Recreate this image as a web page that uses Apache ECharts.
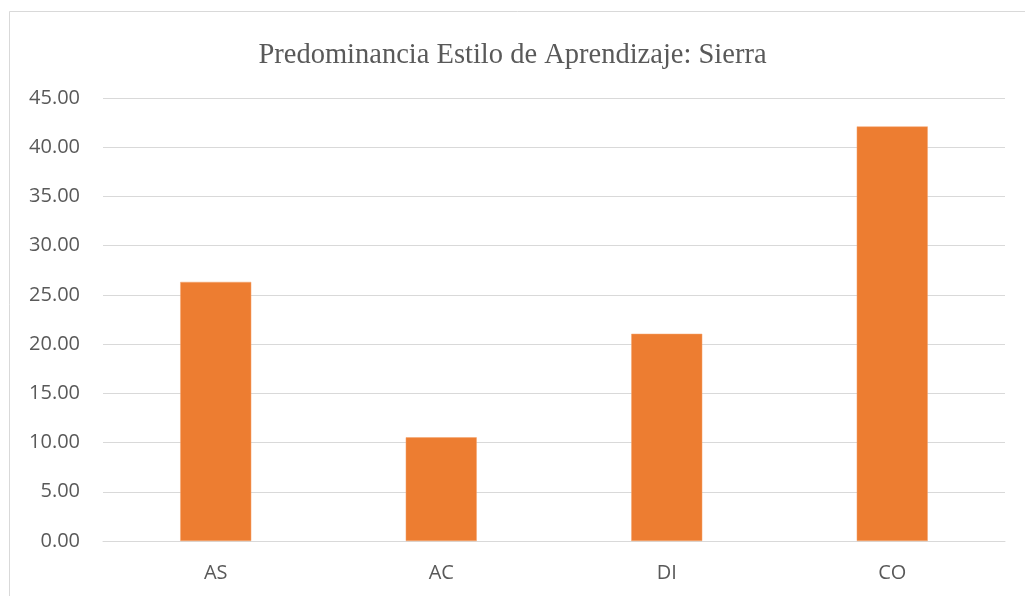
<!DOCTYPE html>
<html><head><meta charset="utf-8">
<script src="https://cdn.jsdelivr.net/npm/echarts@6/dist/echarts.min.js"></script>
<style>html,body{margin:0;padding:0;background:#fff}#c{width:1025px;height:596px}</style>
</head><body><div id="c"></div>
<script>
const categories = ['AS', 'AC', 'DI', 'CO'];
const values = [26.32, 10.53, 21.05, 42.11];
const yTicks = [0, 5, 10, 15, 20, 25, 30, 35, 40, 45];
const titleText = 'Predominancia Estilo de Aprendizaje: Sierra';

const chart = echarts.init(document.getElementById('c'), null, {renderer: 'canvas'});
chart.setOption({
  backgroundColor: '#fff',
  animation: false,
  graphic: [{
    type: 'rect', shape: {x: 9.5, y: 11.5, width: 1030, height: 600},
    style: {fill: 'none', stroke: '#d9d9d9', lineWidth: 1}, silent: true, z: -1
  }],
  title: {
    text: titleText, left: 'center', top: 36,
    textStyle: {fontFamily: 'Liberation Serif', fontSize: 28.5, fontWeight: 'normal', color: '#595959'}
  },
  grid: {left: 103, right: 20, top: 98, bottom: 55, containLabel: false},
  xAxis: {
    type: 'category', data: categories,
    axisLine: {show: true, lineStyle: {color: '#d9d9d9', width: 1}},
    axisTick: {show: false},
    axisLabel: {color: '#595959', fontFamily: 'Open Sans', fontSize: 20, margin: 22}
  },
  yAxis: {
    type: 'value', min: yTicks[0], max: yTicks[yTicks.length - 1], interval: 5,
    axisLine: {show: false}, axisTick: {show: false},
    splitLine: {lineStyle: {color: '#d9d9d9', width: 1}},
    axisLabel: {color: '#595959', fontFamily: 'Open Sans', fontSize: 20, margin: 23,
      formatter: v => v.toFixed(2)}
  },
  series: [{
    type: 'bar', data: values, barWidth: '31.5%',
    itemStyle: {color: '#ED7D31', borderColor: '#F4A46F', borderWidth: 0.5}
  }]
});
</script></body></html>
